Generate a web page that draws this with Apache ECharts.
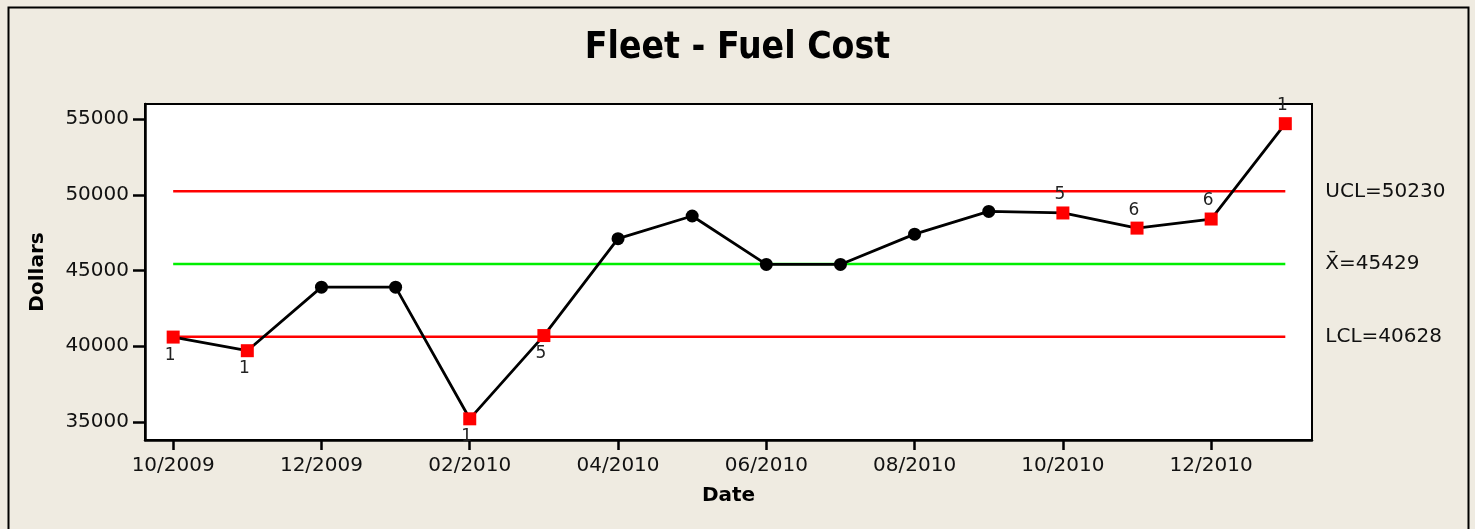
<!DOCTYPE html>
<html>
<head>
<meta charset="utf-8">
<script src="https://cdn.jsdelivr.net/npm/echarts@6/dist/echarts.min.js"></script>
<style>
html,body{margin:0;padding:0;background:#EFEBE1;}
#c{width:1475px;height:529px;}
</style>
</head>
<body>
<div id="c"></div>
<script>
// ---- data ----
const months = ['10/2009','11/2009','12/2009','01/2010','02/2010','03/2010','04/2010','05/2010',
                '06/2010','07/2010','08/2010','09/2010','10/2010','11/2010','12/2010','01/2011'];
const values = [40600, 39700, 43900, 43900, 35200, 40700, 47100, 48600,
                45400, 45400, 47400, 48900, 48800, 47800, 48400, 54700];
const flags  = ['1','1','','','1','5','','','','','','','5','6','6','1'];
const flagPos = ['bottom','bottom','','','bottom','bottom','','','','','','','top','top','top','top'];
const xTickIdx = [0, 2, 4, 6, 8, 10, 12, 14];
const yTicks = [35000, 40000, 45000, 50000, 55000];
const UCL = 50230, CL = 45429, LCL = 40628;
const limitLabels = ['UCL=50230', 'X\u0304=45429', 'LCL=40628'];

const FONT = 'DejaVu Sans';
const chart = echarts.init(document.getElementById('c'), null, {renderer: 'canvas'});

const mainData = values.map((v, i) => {
  const item = {value: [i, v]};
  if (flags[i]) {
    item.symbol = 'rect';
    item.symbolSize = 13;
    item.itemStyle = {color: '#FF0000'};
    item.label = {show: true, formatter: flags[i], position: flagPos[i], distance: 3,
                  fontSize: 17, color: '#222', fontFamily: FONT, offset: [-3, 0]};
  }
  return item;
});

const last = months.length - 1;
function limitSeries(val, color, txt) {
  return {
    type: 'line', data: [[0, val], [last, val]], symbol: 'none', silent: true,
    lineStyle: {color: color, width: 2.5}, z: 1,
    endLabel: {show: true, formatter: txt, distance: 40, fontSize: 20,
               color: '#111', fontFamily: FONT}
  };
}

chart.setOption({
  backgroundColor: '#EFEBE1',
  animation: false,
  title: {
    text: 'Fleet - Fuel Cost', left: 'center', top: 25,
    textStyle: {fontFamily: 'DejaVu Sans Condensed, DejaVu Sans', fontWeight: 'bold', fontSize: 37, color: '#000'}
  },
  graphic: [{
    type: 'rect', left: 6, top: 5, silent: true,
    shape: {width: 1460, height: 560},
    style: {fill: 'none', stroke: '#000', lineWidth: 2}
  }],
  grid: {left: 145, right: 163, top: 104, bottom: 89, show: true,
         backgroundColor: '#FFFFFF', borderColor: '#000', borderWidth: 2},
  xAxis: {
    type: 'value', min: -0.38, max: 15.36,
    name: 'Date', nameLocation: 'middle', nameGap: 46,
    nameTextStyle: {fontFamily: FONT, fontWeight: 'bold', fontSize: 20, color: '#000'},
    axisLine: {show: true, onZero: false, lineStyle: {color: '#000', width: 2.5}},
    axisTick: {show: true, length: 10, lineStyle: {color: '#000', width: 2.5}, customValues: xTickIdx},
    axisLabel: {customValues: xTickIdx, formatter: v => months[Math.round(v)] || '',
                fontFamily: FONT, fontSize: 20, color: '#111', margin: 16},
    splitLine: {show: false}
  },
  yAxis: {
    type: 'value', min: 33800, max: 56000,
    name: 'Dollars', nameLocation: 'middle', nameGap: 97,
    nameTextStyle: {fontFamily: FONT, fontWeight: 'bold', fontSize: 20, color: '#000'},
    axisLine: {show: true, onZero: false, lineStyle: {color: '#000', width: 2.5}},
    axisTick: {show: true, length: 12, lineStyle: {color: '#000', width: 2.5}, customValues: yTicks},
    axisLabel: {customValues: yTicks, formatter: v => String(v),
                fontFamily: FONT, fontSize: 20, color: '#111', margin: 16},
    splitLine: {show: false}
  },
  series: [
    limitSeries(UCL, '#FF0000', limitLabels[0]),
    limitSeries(CL, '#00EE00', limitLabels[1]),
    limitSeries(LCL, '#FF0000', limitLabels[2]),
    {
      type: 'line', data: mainData, z: 5,
      symbol: 'circle', symbolSize: 13,
      itemStyle: {color: '#000'},
      lineStyle: {color: '#000', width: 2.8}
    }
  ]
});
</script>
</body>
</html>
